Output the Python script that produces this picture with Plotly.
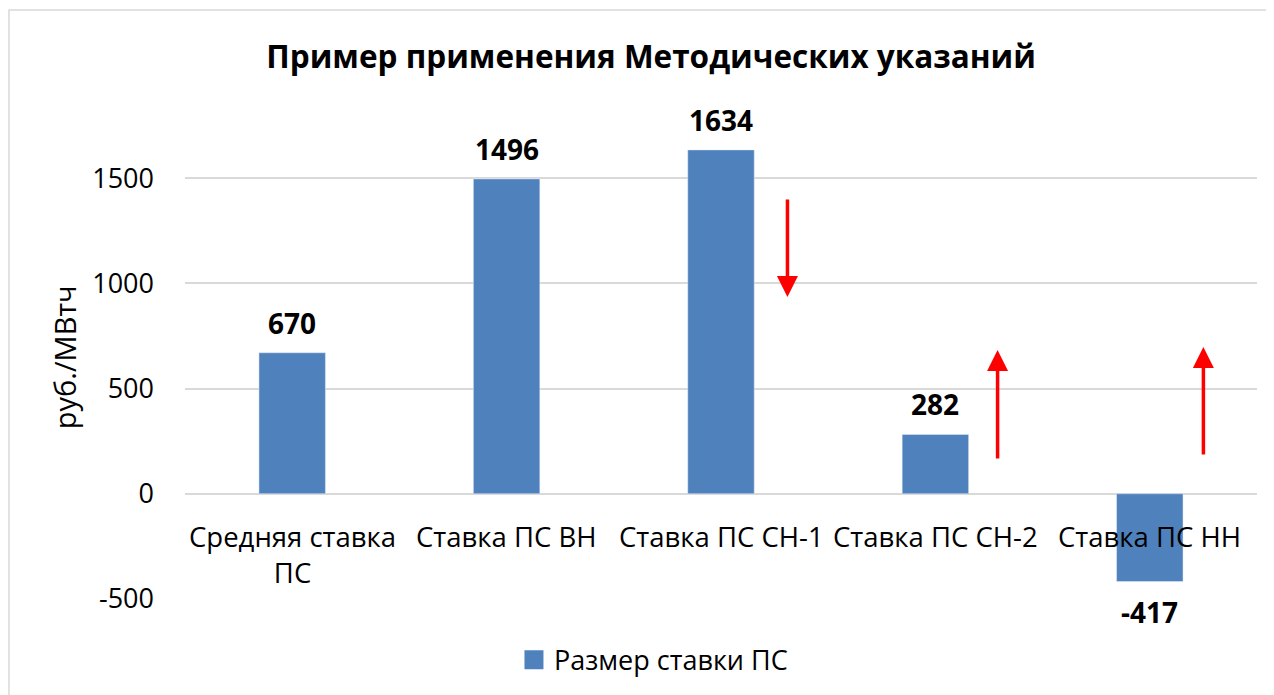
import plotly.graph_objects as go

categories = ["Средняя ставка<br>ПС", "Ставка ПС ВН", "Ставка ПС СН-1", "Ставка ПС СН-2", "Ставка ПС НН"]
values = [670, 1496, 1634, 282, -417]
series_name = "Размер ставки ПС"
title = "Пример применения Методических указаний"
y_title = "руб./МВтч"
y_ticks = [-500, 0, 500, 1000, 1500]
y_ticktext = ["-500", "0", "500", "1000", "1500"]
# arrows: (x position in category units, start value, end value)
arrow_x = [2.31, 3.29, 4.25]
arrow_from = [1405, 161, 180]
arrow_to = [935, 683, 698]

FONT = "Open Sans"
BLUE = "#4F81BD"
xs = list(range(len(categories)))

fig = go.Figure()
fig.add_trace(go.Bar(
    x=xs, y=values, name=series_name, marker_color=BLUE, width=0.31,
    showlegend=False, cliponaxis=False,
))
# legend entry with larger square symbol
fig.add_trace(go.Scatter(
    x=[None], y=[None], mode="markers", name=series_name,
    marker=dict(symbol="square", size=18, color=BLUE, line=dict(color=BLUE, width=3)),
    showlegend=True,
))

# data labels
for x, v in zip(xs, values):
    fig.add_annotation(x=x, y=v, text=f"<b>{v}</b>", showarrow=False,
                       yanchor="middle", yshift=30 if v >= 0 else -30,
                       font=dict(family=FONT, size=28, color="black"))

# category labels at the zero line
for x, c in zip(xs, categories):
    fig.add_annotation(x=x, y=0, text=c, showarrow=False, yanchor="top", yshift=-22,
                       font=dict(family=FONT, size=27.5, color="black"))

# red arrows
for ax_, y0, y1 in zip(arrow_x, arrow_from, arrow_to):
    fig.add_annotation(x=ax_, y=y1, ax=ax_, ay=y0, xref="x", yref="y", axref="x", ayref="y",
                       text="", showarrow=True, arrowhead=2, arrowsize=1.2, arrowwidth=3.5,
                       arrowcolor="#FF0000", standoff=0)

# y-axis title
fig.add_annotation(xref="paper", yref="paper", x=-0.113, y=0.522, text=y_title, textangle=-90,
                   showarrow=False, xanchor="center", yanchor="middle",
                   font=dict(family=FONT, size=29, color="black"))

# border (top & left visible)
fig.add_shape(type="rect", xref="paper", yref="paper", x0=-0.1642, x1=1.2, y0=-0.4, y1=1.272,
              line=dict(color="#D9D9D9", width=1.5), fillcolor="rgba(0,0,0,0)", layer="below")

fig.update_layout(
    width=1266, height=687,
    margin=dict(l=177, r=17, t=128, b=96, autoexpand=False),
    paper_bgcolor="white", plot_bgcolor="white",
    title=dict(text=f"<b>{title}</b>", x=0.508, xanchor="center", y=0.9287, yanchor="middle",
               font=dict(family=FONT, size=31.5, color="black")),
    xaxis=dict(range=[-0.5, 4.5], showticklabels=False, showgrid=False, zeroline=False,
               fixedrange=True, automargin=False),
    yaxis=dict(range=[-500, 1700], tickvals=y_ticks, ticktext=y_ticktext, showgrid=True,
               gridcolor="#D9D9D9", gridwidth=1.5, automargin=False,
               zeroline=True, zerolinecolor="#D9D9D9", zerolinewidth=1.5,
               tickfont=dict(family=FONT, size=27, color="black"), ticks="", ticklabelstandoff=30),
    legend=dict(orientation="h", x=0.437, xanchor="center", y=-0.132, yanchor="middle",
                font=dict(family=FONT, size=27, color="black"), itemwidth=30),
    showlegend=True,
)

fig.write_html("out.html")
